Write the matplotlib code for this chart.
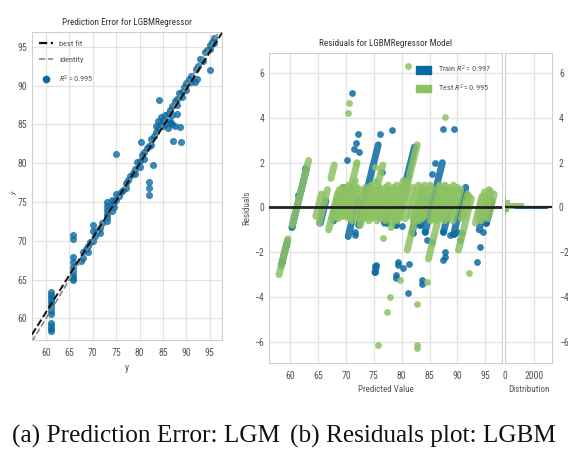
import numpy as np
import matplotlib
matplotlib.use("Agg")
import matplotlib.pyplot as plt
import matplotlib.font_manager as fm
from matplotlib.patches import Patch
from matplotlib.lines import Line2D

# ---- (a) prediction error: actual y vs predicted y-hat ----
pe_actual = [61.0, 61.0, 61.0, 61.0, 61.0, 61.0, 61.0, 61.0, 61.0, 61.0, 61.0, 61.0,
             65.8, 65.8, 65.8, 65.8, 65.8, 65.8, 65.8, 65.8, 65.8,
             67.5, 68.0, 68.0, 68.5, 69.0, 69.0, 69.5, 70.0, 70.0, 70.0, 70.5, 71.0, 71.5, 71.5, 72.0,
             73.0, 73.0, 73.0, 73.0, 73.0, 73.0, 74.0, 74.0, 74.0, 74.5, 74.5, 75.0, 75.0,
             75.5, 76.0, 76.5, 77.0, 77.0, 77.5, 78.0, 78.5, 79.0, 79.0, 79.5, 80.0, 80.0,
             80.5, 81.0, 81.0, 81.5, 82.0, 82.5, 82.5, 83.0, 83.5, 83.5, 84.0, 84.0, 84.5, 84.5,
             85.0, 85.0, 85.5, 85.5, 86.0, 86.0, 86.5, 86.5, 87.0, 87.0, 87.5, 88.0, 88.0, 88.5,
             89.0, 89.0, 89.5, 90.0, 90.0, 90.5, 91.0, 91.0, 92.0, 92.5, 93.0, 93.5, 94.0, 94.5,
             95.0, 95.0, 95.5, 96.0, 96.0,
             74.9, 82.0, 82.0, 82.0, 87.1, 88.8, 95.0, 84.1, 82.8, 80.3, 86.5, 87.0, 87.5,
             88.0, 88.6, 91.8, 92.2]
pe_pred = [63.4, 63.0, 62.6, 62.2, 61.8, 61.4, 61.0, 60.6, 59.4, 59.0, 58.6, 58.3,
           70.8, 70.2, 67.9, 67.3, 66.6, 66.1, 65.6, 65.2, 64.9,
           67.4, 68.5, 67.8, 68.9, 69.3, 68.6, 69.8, 70.0, 72.0, 71.2, 70.6, 71.2, 71.7, 71.0, 72.3,
           75.0, 74.5, 74.0, 73.5, 73.0, 72.6, 74.6, 75.2, 73.8, 75.0, 74.4, 75.3, 76.0,
           75.8, 76.3, 76.6, 77.4, 76.8, 77.8, 78.3, 78.7, 79.3, 78.6, 80.1, 80.3, 79.5,
           81.0, 81.4, 80.6, 82.0, 82.2, 83.1, 82.3, 83.5, 84.0, 84.8, 84.5, 85.4, 85.0, 86.0,
           85.6, 84.8, 86.2, 85.0, 84.5, 86.4, 86.8, 85.2, 87.4, 86.2, 88.0, 88.3, 87.5, 89.0,
           89.2, 88.5, 89.8, 90.3, 89.5, 90.8, 90.5, 91.2, 92.1, 92.6, 93.4, 93.2, 94.3, 94.6,
           95.2, 94.7, 95.6, 96.1, 95.5,
           81.2, 77.6, 76.8, 75.9, 82.9, 82.8, 92.0, 88.1, 79.8, 82.7, 85.5, 85.0, 84.8,
           86.3, 84.7, 90.5, 90.9]

# ---- (b) residuals (predicted - actual) ----
# dense streaks: points sharing one actual value, listed as (actual, pred from, pred to)
train_streak_actual = [61.0, 61.2, 66.1, 68.4, 71.7, 73.1, 73.0, 78.1, 77.6, 79.7, 79.6, 83.0,
                       84.1, 85.3, 88.6, 90.5, 90.6, 94.9, 95.9]
train_streak_lo = [58.4, 60.3, 65.4, 67.8, 70.4, 72.3, 73.6, 75.2, 76.9, 78.9, 80.4, 81.9,
                   83.3, 84.2, 87.5, 89.3, 90.2, 93.9, 95.2]
train_streak_hi = [59.5, 62.9, 66.4, 68.9, 72.1, 73.5, 75.8, 75.5, 77.9, 80.0, 82.3, 83.4,
                   84.4, 87.3, 88.9, 90.8, 91.5, 95.1, 96.2]

test_streak_actual = [61.0, 61.2, 65.0, 65.9, 66.0, 67.9, 68.0, 68.5, 69.1, 69.5, 70.0, 70.5,
                      71.1, 71.7, 72.6, 73.4, 73.6, 74.0, 74.7, 75.1, 75.5, 76.2, 76.6, 77.0,
                      77.7, 78.1, 79.0, 79.1, 79.7, 80.0, 80.0, 81.1, 82.9, 82.0, 82.7, 83.1,
                      83.7, 84.1, 84.5, 87.1, 85.8, 86.2, 86.8, 87.2, 87.6, 88.3, 88.7, 89.1,
                      89.8, 92.1, 91.2, 91.6, 93.9, 94.2, 94.9, 95.3, 96.0]
test_streak_lo = [58.0, 60.4, 64.6, 65.2, 67.3, 66.9, 67.5, 68.1, 68.6, 69.1, 69.6, 70.1,
                  70.6, 71.1, 72.1, 72.6, 73.1, 73.6, 74.1, 74.6, 75.1, 75.6, 76.1, 76.6,
                  77.1, 77.6, 78.1, 78.6, 79.1, 79.6, 79.5, 80.6, 81.0, 81.6, 82.1, 82.6,
                  83.1, 83.6, 84.1, 84.8, 85.2, 85.7, 86.2, 86.7, 87.2, 87.7, 88.2, 88.7,
                  89.2, 90.2, 90.7, 91.2, 93.2, 93.7, 94.3, 94.9, 95.5]
test_streak_hi = [59.6, 63.3, 65.6, 66.7, 67.9, 68.5, 68.8, 69.4, 69.9, 70.5, 72.0, 71.7,
                  72.0, 72.5, 73.5, 74.2, 74.6, 74.8, 76.6, 76.0, 76.3, 77.1, 77.6, 77.8,
                  78.6, 79.1, 79.9, 80.3, 80.6, 81.1, 82.8, 82.0, 83.7, 83.0, 83.6, 84.1,
                  84.5, 85.1, 85.4, 87.6, 86.8, 87.1, 87.8, 88.0, 88.5, 89.3, 89.5, 90.0,
                  90.6, 92.5, 91.8, 92.1, 94.4, 94.9, 95.7, 96.0, 96.6]

# isolated points
train_x = [71.1, 72.2, 71.8, 71.5, 72.4, 70.2, 76.2, 78.3, 76.5, 81.2, 86.0, 85.5, 87.5, 89.3,
           90.0, 62.7, 61.4, 60.3, 71.7, 71.7, 75.3, 75.3, 77.4, 79.4, 79.4, 80.3, 78.9, 78.9,
           81.4, 81.2, 83.6, 83.6, 82.1, 84.6, 85.5, 87.5, 87.8, 87.8, 87.5, 88.7, 89.9, 90.8,
           90.5, 93.5, 94.1, 94.6, 95.2, 58.6, 59.3, 78.9, 80.1, 83.3, 84.2, 89.3, 69.5, 70.8,
           91.1, 91.8]
train_r = [5.1, 3.3, 2.9, 2.6, 2.5, 2.1, 3.3, 3.45, 1.6, 1.4, 2.0, 1.5, 3.5, 3.5,
           0.8, 1.76, 0.55, -0.85, -1.23, -1.1, -2.9, -2.6, -0.7, -2.42, -2.57, -2.7, -3.0, -3.15,
           -2.52, -3.8, -3.24, -3.4, -1.15, -1.45, -1.53, -1.1, -2.0, -2.2, -2.35, -1.23, -1.1, -1.15,
           -1.45, -2.43, -1.75, -1.1, -0.7, -2.43, -1.67, -0.8, -0.85, -0.8, -1.1, -1.2, 0.9, 0.9,
           0.6, 0.55]

test_x = [70.6, 70.3, 71.8, 87.8, 81.2, 76.7, 79.7, 84.5, 77.9, 77.4, 82.8, 82.8, 82.8, 75.8,
          92.0, 75.3, 75.4]
test_r = [4.65, 4.2, 2.0, 4.05, 6.3, -1.37, -3.24, -3.35, -3.98, -4.65, -4.3, -6.15, -6.3, -6.15,
          -2.95, 1.8, 1.2]

# residual histogram (bin centres and counts)
hist_centers = [-0.42, -0.28, -0.14, 0.0, 0.14, 0.28, 0.42]
train_counts = [30, 80, 200, 2950, 150, 60, 20]
test_counts = [20, 60, 250, 700, 1300, 350, 40]

blue = "#0b6aa2"
green = "#8dc262"
grid_c = "#e2e2e2"
text_c = "#555555"

# pick a condensed sans if one is installed
installed = {f.name for f in fm.fontManager.ttflist}
narrow = next((n for n in ["Liberation Sans Narrow", "Roboto Condensed", "Open Sans Condensed",
                           "Liberation Sans"] if n in installed), "DejaVu Sans")
plt.rcParams["font.family"] = [narrow, "DejaVu Sans"]
plt.rcParams["mathtext.fontset"] = "custom"
plt.rcParams["mathtext.rm"] = narrow
plt.rcParams["mathtext.it"] = narrow + ":italic"
plt.rcParams["axes.edgecolor"] = "#d0d0d0"
plt.rcParams["axes.linewidth"] = 0.8

fig = plt.figure(figsize=(5.68, 4.54), dpi=100)


def style(ax):
    ax.grid(True, color=grid_c, lw=0.9)
    ax.set_axisbelow(True)
    ax.tick_params(length=0, labelsize=7, colors=text_c)
    ax.tick_params(axis="x", pad=5.5)
    ax.tick_params(axis="y", pad=3.5)


# ---- left panel ----
ax1 = fig.add_axes([0.0563, 0.2511, 0.3345, 0.678])
style(ax1)
ax1.scatter(pe_actual, pe_pred, s=26, color=blue, alpha=0.8, linewidths=0, zorder=3)
lims = (57.0, 97.6)
ax1.set_xlim(lims)
ax1.set_ylim(57.2, 96.9)
coef = np.polyfit(pe_actual, pe_pred, 1)
xx = np.array(lims)
ax1.plot(xx, xx, ls="--", color="#888888", lw=1.2, zorder=4)
ax1.plot(xx, np.polyval(coef, xx), ls="--", color="#111111", lw=1.4, zorder=5)
ax1.set_xticks([60, 65, 70, 75, 80, 85, 90, 95])
ax1.set_yticks([60, 65, 70, 75, 80, 85, 90, 95])
ax1.set_title("Prediction Error for LGBMRegressor", fontsize=6.6, color="#333333", pad=5)
ax1.set_xlabel("y", fontsize=7, color=text_c, labelpad=4)
ax1.set_ylabel(r"$\hat{y}$", fontsize=6, color=text_c)
ax1.yaxis.set_label_coords(-0.065, 0.48)
handles = [Line2D([], [], ls="--", color="#111111", lw=1.6),
           Line2D([], [], ls="--", color="#888888", lw=1.2),
           Line2D([], [], ls="", marker="o", color=blue, markersize=4.5)]
ax1.legend(handles, ["best fit", "identity", r"$R^2 = 0.995$"], loc="upper left",
           frameon=False, fontsize=6, handlelength=1.6, labelspacing=1.2,
           borderaxespad=0.5, labelcolor=text_c)

# ---- right panel: residuals ----
ax2 = fig.add_axes([0.4736, 0.2004, 0.4102, 0.6828])
style(ax2)
for a, lo, hi in zip(train_streak_actual, train_streak_lo, train_streak_hi):
    ax2.plot([lo, hi], [lo - a, hi - a], color=blue, lw=5, alpha=0.85,
             solid_capstyle="round", zorder=3)
ax2.scatter(train_x, train_r, s=24, color=blue, alpha=0.85, linewidths=0, zorder=3)
for a, lo, hi in zip(test_streak_actual, test_streak_lo, test_streak_hi):
    ax2.plot([lo, hi], [lo - a, hi - a], color=green, lw=5, alpha=0.85,
             solid_capstyle="round", zorder=4)
ax2.scatter(test_x, test_r, s=24, color=green, alpha=0.85, linewidths=0, zorder=4)
ax2.axhline(0, color="#222222", lw=2, zorder=6)
ax2.set_xlim(56.2, 98.0)
ax2.set_ylim(-6.95, 6.9)
ax2.set_xticks([60, 65, 70, 75, 80, 85, 90, 95])
ax2.set_yticks([-6, -4, -2, 0, 2, 4, 6])
ax2.set_title("Residuals for LGBMRegressor Model", fontsize=6.6, color="#333333", pad=5)
ax2.set_xlabel("Predicted Value", fontsize=6.5, color=text_c, labelpad=3)
ax2.set_ylabel("Residuals", fontsize=6.5, color=text_c, labelpad=2)
ax2.legend([Patch(color=blue), Patch(color=green)],
           [r"Train $R^2 = 0.997$", r"Test $R^2 = 0.995$"], loc="upper right",
           frameon=False, fontsize=6, handlelength=1.8, handleheight=1.0,
           labelspacing=0.9, borderaxespad=0.9, labelcolor=text_c)

# ---- distribution of residuals ----
ax3 = fig.add_axes([0.8891, 0.2004, 0.0827, 0.6828], sharey=ax2)
style(ax3)
ax3.barh(hist_centers, train_counts, height=0.14, color=blue, zorder=3)
ax3.barh(hist_centers, test_counts, height=0.14, color=green, alpha=0.9, zorder=4)
ax3.axhline(0, color="#222222", lw=1.6, zorder=6)
ax3.set_xlim(0, 3200)
ax3.set_xticks([0, 2000])
ax3.yaxis.tick_right()
ax3.tick_params(axis="y", pad=5)
ax3.set_xlabel("Distribution", fontsize=6.5, color=text_c, labelpad=3)

# captions
fig.text(0.021, 0.026, "(a) Prediction Error: LGM", family="Liberation Serif",
         fontsize=18.2, color="#111111", va="baseline")
fig.text(0.511, 0.026, "(b) Residuals plot: LGBM", family="Liberation Serif",
         fontsize=18.2, color="#111111", va="baseline")

fig.savefig("out.png", dpi=100)
